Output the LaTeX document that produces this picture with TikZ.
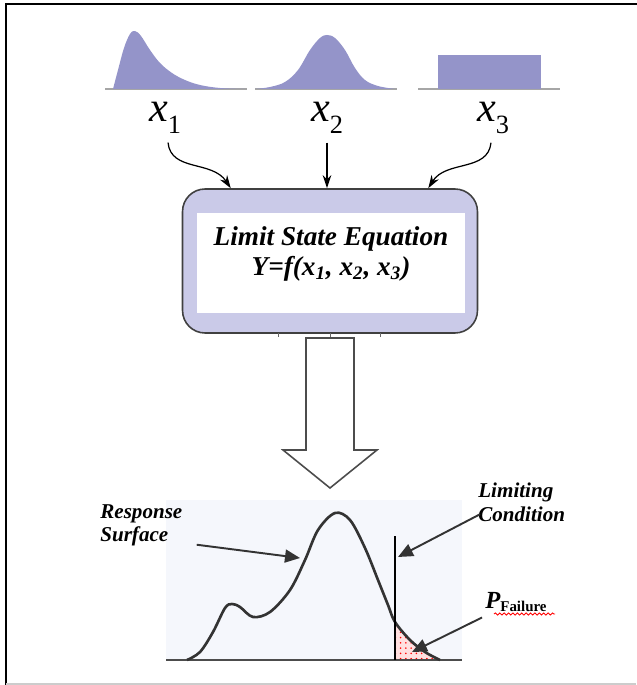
\documentclass[tikz,border=0pt]{standalone}
\usepackage{fontspec}
\setmainfont{Liberation Serif}
\usepackage{tikz}
\usetikzlibrary{arrows.meta, positioning, calc, patterns, decorations.pathmorphing}
\definecolor{pdfblue}{HTML}{9494C9}
\definecolor{boxlav}{HTML}{CACAE8}
\definecolor{plotbg}{HTML}{F5F7FC}
\newcommand{\varlab}[1]{\fontsize{24}{26}\selectfont\itshape x\raisebox{-6.5pt}{\fontsize{15}{15}\selectfont\upshape #1}}

\begin{document}
\begin{tikzpicture}[x=0.02cm, y=-0.02cm,
    feed/.style={-{Stealth[length=0.26cm, width=0.17cm]}, line width=0.7pt},
    callout/.style={-{Triangle[length=0.3cm, width=0.26cm]}, line width=1.1pt, black!80},
    lsebox/.style={draw=black!75, fill=boxlav, rounded corners=0.45cm, line width=0.9pt, minimum width=5.9cm, minimum height=2.88cm},
    tag/.style={font=\fontsize{12}{13.5}\selectfont\bfseries\itshape, align=left, inner sep=0pt},
]
  \useasboundingbox (0,0) rectangle (636,685);
  % frame
  \draw[line width=1.6pt] (6,685) |- (640,4);
  \draw[gray!40, line width=0.8pt] (6,684) -- (636,684);

  % Top: input distributions
  \draw[gray!70, line width=0.6pt] (105,89) -- (247,89);
  \draw[gray!70, line width=0.6pt] (255,89) -- (397,89);
  \draw[gray!70, line width=0.6pt] (418,89) -- (560,89);
  \fill[pdfblue] plot[smooth, tension=0.6] coordinates {(113,89) (118,70) (124,48) (130,34) (135,31) (141,36) (150,50) (160,63) (172,73) (185,80) (200,85) (220,88) (245,89)} -- cycle;
  \fill[pdfblue] plot[smooth, tension=0.6] coordinates {(255,89) (270,87) (285,82) (298,70) (310,50) (320,38) (327,35) (335,38) (345,50) (355,68) (365,80) (378,86) (395,89)} -- cycle;
  \fill[pdfblue] (438,55) rectangle (541,89);

  \node (x1) at (165,118) {\varlab{1}};
  \node (x2) at (327,118) {\varlab{2}};
  \node (x3) at (493,118) {\varlab{3}};

  % Middle: limit state equation
  \node[lsebox] (lse) at (330,261) {};
  \node[fill=white, minimum width=5.36cm, minimum height=2.02cm] (inner) at (331,263) {};
  \node[align=center, font=\fontsize{15.5}{17}\selectfont\bfseries\itshape] (eq) at (331,254)
    {Limit State Equation\\Y=f(x\textsubscript{1}, x\textsubscript{2}, x\textsubscript{3})};
  \foreach \tx in {278,330,380} \draw[black!60, line width=0.5pt] (\tx,333) -- (\tx,337);

  \draw[feed] ($(x1.south)+(3,3)$) .. controls (171,172) and (212,160) .. ($(lse.north west)+(49,0)$);
  \draw[feed] ($(x2.south)+(0,3)$) -- (lse.north -| x2);
  \draw[feed] ($(x3.south)+(-2,3)$) .. controls (488,172) and (446,160) .. ($(lse.north east)+(-50,0)$);

  % Block arrow down to the response
  \draw[black!70, line width=0.9pt, fill=white] (306,338) -- (354,338) -- (354,450) -- (377,450)
    -- (330,488) -- (283,450) -- (306,450) -- cycle;

  % Bottom: response surface
  \fill[plotbg] (166,500) rectangle (462,660);
  \fill[red!12] (395,623) .. controls (410,640) and (425,652) .. (440,660) -- (395,660) -- cycle;
  \fill[pattern=dots, pattern color=red] (395,623) .. controls (410,640) and (425,652) .. (440,660) -- (395,660) -- cycle;
  \draw[black!70, line width=1.2pt] (166,660) -- (462,660);
  \draw[black!80, line width=1.5pt] plot[smooth, tension=0.55] coordinates {(187,660) (200,652) (213,632) (225,608) (232,604) (240,607) (253,617) (270,612) (290,590) (305,560) (318,530) (335,513) (350,520) (365,548) (378,580) (388,605) (395,622) (410,640) (425,652) (440,660)};
  \draw[line width=0.8pt] (395,536) -- (395,660);

  \node[tag, anchor=north west] (resp) at (100,504) {Response\\Surface};
  \node[tag, anchor=north west] (limit) at (478,483) {Limiting\\Condition};
  \node[anchor=north west, inner sep=0pt] (pfail) at (485,592)
    {\fontsize{14}{15}\selectfont\bfseries\itshape P\raisebox{-2pt}{\fontsize{8.5}{9}\selectfont\upshape\bfseries Failure}};
  \draw[red, line width=0.5pt, decorate, decoration={snake, amplitude=0.6pt, segment length=2.5pt}] (494,614) -- (555,614);

  \coordinate (onresp) at (300,558);
  \coordinate (online) at (398,557);
  \coordinate (ontail) at (412,652);
  \draw[callout] ($(resp.south east)+(14,-2)$) -- (onresp);
  \draw[callout] ($(limit.south west)+(2,-8)$) -- (online);
  \draw[callout] ($(pfail.south west)+(-3,5)$) -- (ontail);
\end{tikzpicture}
\end{document}
